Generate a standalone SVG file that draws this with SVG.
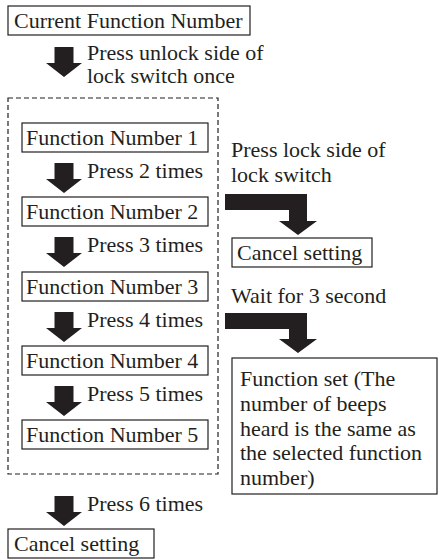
<svg xmlns="http://www.w3.org/2000/svg" width="438" height="560" viewBox="0 0 438 560">
<defs>
<style>
text{font-size:22px;fill:#231f20}
.box{fill:#fff;stroke:#231f20;stroke-width:1.2}
.dash{fill:none;stroke:#231f20;stroke-width:1.2;stroke-dasharray:5,3}
.arr{fill:#231f20}
</style>
<path id="down" d="M-9.5,0 H9.5 V16 H18 L0,30 L-18,16 H-9.5 Z"/>
</defs>
<rect width="438" height="560" fill="#fff"/>
<g font-family="Liberation Serif, Times New Roman, DejaVu Serif, serif">
<g id="current">
<rect class="box" x="8" y="6" width="242" height="29"/>
<text x="14" y="28">Current Function Number</text>
</g>
<g id="group-box"><rect class="dash" x="8" y="98" width="210" height="376"/></g>
<g id="fn1"><rect class="box" x="22" y="123" width="186" height="29"/><text x="26" y="145">Function Number 1</text></g>
<g id="fn2"><rect class="box" x="22" y="197" width="186" height="29"/><text x="26" y="219">Function Number 2</text></g>
<g id="fn3"><rect class="box" x="22" y="272" width="186" height="29"/><text x="26" y="294">Function Number 3</text></g>
<g id="fn4"><rect class="box" x="22" y="346" width="186" height="29"/><text x="26" y="368">Function Number 4</text></g>
<g id="fn5"><rect class="box" x="22" y="420" width="186" height="29"/><text x="26" y="442">Function Number 5</text></g>
<g id="cancel1"><rect class="box" x="232" y="238" width="140" height="29"/><text x="237" y="260">Cancel setting</text></g>
<g id="funcset">
<rect class="box" x="232" y="358" width="205" height="136"/>
<text x="240" y="386">Function set (The</text>
<text x="240" y="411">number of beeps</text>
<text x="240" y="436">heard is the same as</text>
<text x="240" y="460">the selected function</text>
<text x="240" y="485">number)</text>
</g>
<g id="cancel2"><rect class="box" x="8" y="529" width="146" height="29"/><text x="14" y="551">Cancel setting</text></g>
<g id="connectors">
<use href="#down" class="arr" x="64" y="47"/>
<use href="#down" class="arr" x="64" y="163"/>
<use href="#down" class="arr" x="64" y="237"/>
<use href="#down" class="arr" x="64" y="312"/>
<use href="#down" class="arr" x="64" y="386"/>
<use href="#down" class="arr" x="64" y="496"/>
<path class="arr" d="M225,194 H307 V221 H317 L298,235 L279,221 H289 V210 H225 Z"/>
<path class="arr" d="M225,313 H307 V339 H317 L298,353 L279,339 H289 V329 H225 Z"/>
</g>
<g id="labels">
<text x="87" y="60">Press unlock side of</text>
<text x="87" y="83">lock switch once</text>
<text x="87" y="178">Press 2 times</text>
<text x="87" y="252">Press 3 times</text>
<text x="87" y="327">Press 4 times</text>
<text x="87" y="401">Press 5 times</text>
<text x="87" y="511">Press 6 times</text>
<text x="231" y="157">Press lock side of</text>
<text x="231" y="182">lock switch</text>
<text x="231" y="303">Wait for 3 second</text>
</g>
</g>
</svg>
